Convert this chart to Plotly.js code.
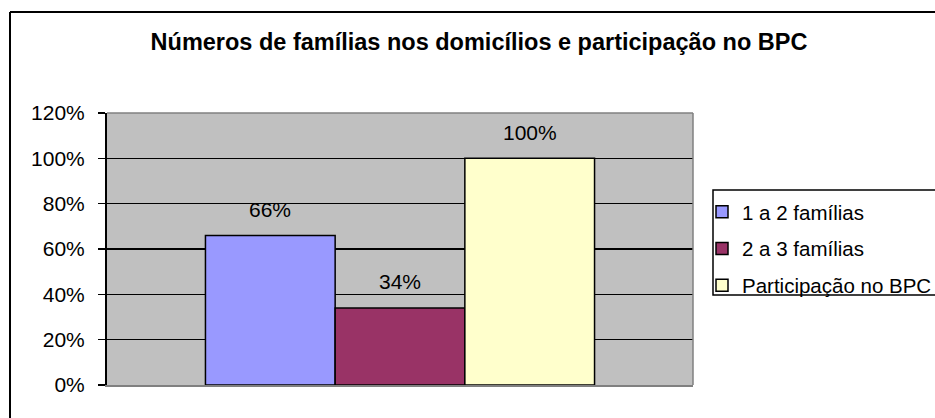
<!DOCTYPE html>
<html>
<head>
<meta charset="utf-8">
<script src="https://cdn.plot.ly/plotly-3.0.1.min.js"></script>
<style>
html,body{margin:0;padding:0;background:#fff;}
#chart{width:935px;height:418px;}
</style>
</head>
<body>
<div id="chart"></div>
<script>
// ---- data ----
const categories = ["Domicílios"];
const seriesNames = ["1 a 2 famílias", "2 a 3 famílias", "Participação no BPC"];
const seriesValues = [[0.66], [0.34], [1.00]];
const seriesColors = ["#9999FF", "#993366", "#FFFFCC"];
const yTickValues = [0, 0.2, 0.4, 0.6, 0.8, 1.0, 1.2];
const yTickLabels = ["0%", "20%", "40%", "60%", "80%", "100%", "120%"];
const chartTitle = "Números de famílias nos domicílios e participação no BPC";

// ---- layout helpers ----
const W = 935, H = 418;
const M = {l: 107, r: 242, t: 113, b: 33};
const PW = W - M.l - M.r, PH = H - M.t - M.b;
const px2x = p => (p - M.l) / PW;
const py2y = p => (H - M.b - p) / PH;
const bargap = 0.336;
const barW = (1 - bargap) / seriesNames.length;
const FONT = "Liberation Sans, Arial, sans-serif";

const traces = seriesNames.map((name, i) => ({
  type: "bar",
  name: name,
  x: categories,
  y: seriesValues[i],
  legendgroup: "g" + i,
  marker: {color: seriesColors[i], line: {color: "#000", width: 1.5}},
  hoverinfo: "skip"
}));

const annotations = [];
seriesValues.forEach((vals, i) => {
  vals.forEach((v, j) => {
    annotations.push({
      xref: "x", yref: "y",
      x: j + (i - (seriesNames.length - 1) / 2) * barW,
      y: v,
      yshift: 26,
      text: Math.round(v * 100) + "%",
      showarrow: false,
      xanchor: "center", yanchor: "middle",
      font: {family: FONT, size: 21, color: "#000"}
    });
  });
});

const shapes = [
  // plot area gray border (top, right)
  {type: "line", xref: "paper", yref: "paper", x0: 0, x1: 1, y0: 1, y1: 1,
   line: {color: "#808080", width: 1.5}, layer: "above"},
  {type: "line", xref: "paper", yref: "paper", x0: 1, x1: 1, y0: 0, y1: 1,
   line: {color: "#808080", width: 1.5}, layer: "above"},
  // outer chart border (top, left)
  {type: "line", xref: "paper", yref: "paper", x0: px2x(10), x1: px2x(945), y0: py2y(12), y1: py2y(12),
   line: {color: "#000", width: 2}},
  {type: "line", xref: "paper", yref: "paper", x0: px2x(10), x1: px2x(10), y0: py2y(12), y1: py2y(430),
   line: {color: "#000", width: 2}},
  // legend frame
  {type: "rect", xref: "paper", yref: "paper", x0: px2x(713), x1: px2x(960), y0: py2y(190), y1: py2y(295),
   line: {color: "#000", width: 1.5}, fillcolor: "rgba(0,0,0,0)"}
];

const layout = {
  width: W, height: H,
  margin: {l: M.l, r: M.r, t: M.t, b: M.b, autoexpand: false},
  paper_bgcolor: "#fff",
  plot_bgcolor: "#C0C0C0",
  font: {family: FONT, size: 21, color: "#000"},
  title: {
    text: "<b>" + chartTitle + "</b>",
    xref: "container", yref: "container",
    x: 479 / W, y: 1 - 42 / H, xanchor: "center", yanchor: "middle",
    font: {family: FONT, size: 23.5, color: "#000"}
  },
  barmode: "group",
  bargap: bargap,
  bargroupgap: 0,
  showlegend: true,
  legend: {
    x: px2x(702), y: py2y(192), xanchor: "left", yanchor: "top",
    borderwidth: 0, bgcolor: "rgba(0,0,0,0)",
    font: {family: FONT, size: 20.5, color: "#000"},
    tracegroupgap: 7,
    traceorder: "grouped"
  },
  xaxis: {
    type: "category",
    showticklabels: false, ticks: "",
    showgrid: false, zeroline: false,
    showline: true, linecolor: "#808080", linewidth: 1.5,
    range: [-0.5, 0.5], fixedrange: true
  },
  yaxis: {
    range: [0, 1.2],
    tickvals: yTickValues, ticktext: yTickLabels,
    ticks: "outside", ticklen: 7, tickwidth: 1.5, tickcolor: "#000",
    ticklabelstandoff: 9,
    showgrid: true, gridcolor: "#000", gridwidth: 1.5,
    zeroline: false,
    showline: true, linecolor: "#000", linewidth: 2,
    tickfont: {family: FONT, size: 21, color: "#000"},
    fixedrange: true
  },
  annotations: annotations,
  shapes: shapes
};

Plotly.newPlot("chart", traces, layout, {displayModeBar: false, staticPlot: true});
</script>
</body>
</html>
